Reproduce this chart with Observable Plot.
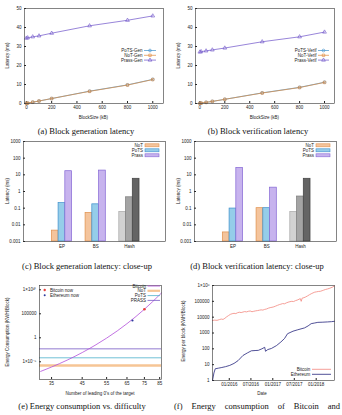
<!DOCTYPE html>
<html><head><meta charset="utf-8">
<script src="https://cdn.jsdelivr.net/npm/d3@7"></script>
<script src="https://cdn.jsdelivr.net/npm/@observablehq/plot@0.6"></script>
<style>
body{margin:0;background:#fff;}
#root{position:relative;width:342px;height:415px;overflow:hidden;background:#fff;}
</style></head><body><div id="root"></div>
<script>
// ---------- DATA ----------
// (a)/(b) latency vs block size
const blockSizes = [0, 10, 50, 100, 200, 500, 800, 1000];
const genPoTS  = [0.1, 0.2, 0.7, 1.3, 2.6, 6.5, 9.8, 12.7];
const genNoT   = [0.1, 0.2, 0.7, 1.3, 2.6, 6.4, 9.7, 12.6];
const genPrass = [34.4, 34.6, 35.1, 35.6, 37.0, 40.9, 43.8, 46.1];
const verPoTS  = [0.1, 0.2, 0.6, 1.1, 2.2, 5.6, 8.5, 11.2];
const verNoT   = [0.1, 0.2, 0.6, 1.1, 2.2, 5.5, 8.4, 11.1];
const verPrass = [27.1, 27.3, 27.7, 28.2, 29.2, 32.5, 35.1, 37.6];
const latencyTicks = [0, 10, 20, 30, 40, 50];
const sizeTicks = [0, 200, 400, 600, 800, 1000];

// (c)/(d) close-up bars
const barGroups = ["EP", "BS", "Hash"];
const barSeries = ["NoT", "PoTS", "Prass"];
const genBarNoT   = [0.0045, 0.052, 0.06];
const genBarPoTS  = [0.2, 0.17, 0.45];
const genBarPrass = [16.5, 18, 5.8];
const verBarNoT   = [0.0035, 0.1, 0.06];
const verBarPoTS  = [0.095, 0.1, 0.5];
const verBarPrass = [26, 1.7, 5.8];
const barTicks = [0.001, 0.01, 0.1, 1, 10, 100, 1000];

// (e) energy vs difficulty
const leadingZeros = [32, 35, 40, 45, 50, 55, 60, 65, 70, 75, 80, 85, 86.3];
const btcEnergyCurve = [1e-7, 8.2e-7, 2.6e-5, 8.4e-4, 0.027, 0.86, 27, 880, 28000, 9e5, 2.9e7, 9.2e8, 2.2e9];
const energyNoT = 1.7e-6;
const energyPoTS = 6.8e-5;
const energyPrass = 5e-3;
const bitcoinNow = {zeros: 75, energy: 9e5};
const ethereumNow = {zeros: 68, energy: 4000};
const zeroTicks = [35, 45, 55, 65, 75, 85];
const energyTicks = [1e-5, 1, 1e5, 1e10];
const energyTickLabels = ["1×10⁻⁵", "1", "100000", "1×10¹⁰"];

// (f) energy per block over time
const btcDates = ["2015-08-13","2015-09-01","2015-09-20","2015-10-10","2015-10-25","2015-11-10","2015-11-25","2015-12-10","2015-12-25","2016-01-10","2016-01-25","2016-02-10","2016-02-25","2016-03-10","2016-03-25","2016-04-10","2016-04-25","2016-05-10","2016-05-25","2016-06-10","2016-06-25","2016-07-10","2016-07-25","2016-08-10","2016-08-25","2016-09-10","2016-09-25","2016-10-10","2016-10-25","2016-11-10","2016-11-25","2016-12-10","2016-12-25","2017-01-10","2017-01-25","2017-02-10","2017-02-25","2017-03-10","2017-03-25","2017-04-10","2017-04-25","2017-05-10","2017-05-25","2017-06-10","2017-06-25","2017-07-10","2017-07-25","2017-08-10","2017-08-20","2017-08-28","2017-09-05","2017-09-20","2017-10-05","2017-10-20","2017-11-05","2017-11-20","2017-12-05","2017-12-20","2018-01-05","2018-01-20","2018-02-05","2018-02-20","2018-03-05","2018-03-20","2018-04-05","2018-04-20","2018-05-05","2018-05-20","2018-06-04"];
const btcEnergy = [6200,6500,6300,7000,7600,7200,8500,10500,12500,15000,16500,17500,16800,19000,20500,19500,21000,22500,21500,23500,24500,22000,23500,25000,26000,27500,29000,28000,31000,33000,37000,40000,42000,45000,50000,56000,62000,66000,72000,70000,80000,88000,95000,100000,97000,110000,120000,135000,150000,100000,160000,170000,190000,220000,260000,300000,340000,380000,400000,420000,430000,470000,510000,560000,600000,650000,720000,800000,950000];
const ethDates = ["2015-08-13","2015-08-25","2015-09-05","2015-10-01","2015-10-25","2015-12-01","2016-01-05","2016-02-10","2016-03-15","2016-04-25","2016-06-01","2016-07-05","2016-08-05","2016-09-01","2016-10-01","2016-10-25","2016-11-01","2016-11-20","2016-12-20","2017-02-01","2017-03-10","2017-04-10","2017-05-05","2017-06-20","2017-07-30","2017-09-25","2017-10-25","2017-11-20","2017-12-20","2018-01-15","2018-02-20","2018-04-05","2018-05-10","2018-06-04"];
const ethEnergy = [1,3,5.5,6,6.5,7.5,9,12,18,38,55,75,78,80,100,125,70,90,105,160,270,450,900,1300,1600,2100,2800,3900,4300,4700,4800,5000,5200,5500];
const dateTicks = ["2016-01-01","2016-07-01","2017-01-01","2017-07-01","2018-01-01"];
const perBlockTicks = [1, 10, 100, 1000, 10000, 100000, 1000000];
const perBlockTickLabels = ["1", "10", "100", "1000", "10000", "100000", "1×10⁶"];

// ---------- STYLE ----------
const C = {
  pots: "#3d8fcc", not: "#e0883a", prass: "#6c50c8",
  potsFill: "#95cde9", notFill: "#f4c49c", prassFill: "#c7b3ee",
  prassStroke: "#8466d4", notStroke: "#e0904c",
  hashFill: ["#d2d2d2", "#a4a4a4", "#646464"], hashStroke: ["#aaaaaa", "#7c7c7c", "#404040"],
  eBtc: "#b24fda", eNot: "#f6c595", ePots: "#4cb0cc", ePrass: "#7658c4",
  red: "#e8413c", navy: "#2b3a9c", fBtc: "#f2877e", fEth: "#24247c"
};
const sans = "'Liberation Sans', Arial, sans-serif";
const serif = "'Liberation Serif', 'Times New Roman', serif";
const baseStyle = {fontFamily: sans, fontSize: "4.5px", color: "#222", background: "transparent", overflow: "visible"};

const root = document.getElementById("root");
function put(node, left, top) {
  node.style.position = "absolute";
  node.style.left = left + "px";
  node.style.top = top + "px";
  root.appendChild(node);
}

// ---------- (a)/(b) ----------
function seriesMarks(xs, ys, color, symbol) {
  const data = xs.map((x, i) => ({x, y: ys[i]}));
  return [
    Plot.line(data, {x: "x", y: "y", stroke: color, strokeWidth: 0.7}),
    Plot.dot(data, {x: "x", y: "y", symbol, r: 1.4, stroke: color, strokeWidth: 0.6, fill: "none"})
  ];
}
function latencyPlot(xDomain, pots, not, prass) {
  return Plot.plot({
    width: 171, height: 122, marginLeft: 24, marginRight: 8, marginTop: 8, marginBottom: 19,
    style: baseStyle,
    x: {domain: xDomain, ticks: sizeTicks, tickFormat: d => String(d), tickSize: -2, tickPadding: 4, label: null},
    y: {domain: [0, 50], ticks: latencyTicks, tickFormat: d => String(d), tickSize: -2, tickPadding: 5, label: null},
    marks: [
      ...seriesMarks(blockSizes, pots, C.pots, "circle"),
      ...seriesMarks(blockSizes, not, C.not, "square"),
      ...seriesMarks(blockSizes, prass, C.prass, "triangle"),
      Plot.frame({stroke: "#333", strokeWidth: 0.6})
    ]
  });
}
put(latencyPlot([-15, 1085], genPoTS, genNoT, genPrass), 0, 0);
put(latencyPlot([-35, 1080], verPoTS, verNoT, verPrass), 171, 0);

// ---------- (c)/(d) ----------
function barPlot(notArr, potsArr, prassArr) {
  const arrs = [notArr, potsArr, prassArr];
  const fills = [C.notFill, C.potsFill, C.prassFill];
  const strokes = [C.notStroke, C.pots, C.prassStroke];
  const rows = barGroups.flatMap((g, gi) => barSeries.map((s, si) => ({g, gi, s, si, v: arrs[si][gi]})));
  const step = 0.2;
  return Plot.plot({
    width: 171, height: 118, marginLeft: 23, marginRight: 6, marginTop: 5, marginBottom: 13,
    style: baseStyle,
    color: {type: "identity"},
    x: {type: "linear", domain: [-1.14, 3.07], ticks: [0, 1, 2], tickFormat: i => barGroups[i], tickSize: 0, tickPadding: 3, label: null},
    y: {type: "log", domain: [0.001, 1000], ticks: barTicks, tickFormat: d => String(d), tickSize: -2, tickPadding: 5, label: null},
    marks: [
      Plot.rectY(rows, {
        x1: d => d.gi + (d.si - 1) * step - step / 2,
        x2: d => d.gi + (d.si - 1) * step + step / 2,
        y1: () => 0.001, y2: "v",
        fill: d => d.g === "Hash" ? C.hashFill[d.si] : fills[d.si],
        stroke: d => d.g === "Hash" ? C.hashStroke[d.si] : strokes[d.si],
        strokeWidth: 0.7
      }),
      Plot.frame({stroke: "#333", strokeWidth: 0.6})
    ]
  });
}
put(barPlot(genBarNoT, genBarPoTS, genBarPrass), 0, 136);
put(barPlot(verBarNoT, verBarPoTS, verBarPrass), 171, 136);

// ---------- (e) ----------
const curve = leadingZeros.map((z, i) => ({z, e: btcEnergyCurve[i]}));
const ePlot = Plot.plot({
  width: 171, height: 110, marginLeft: 39, marginRight: 10, marginTop: 5, marginBottom: 11,
  style: baseStyle,
  x: {type: "log", domain: [31.7, 86.3], ticks: zeroTicks, tickFormat: d => String(d), tickSize: -2, tickPadding: 4, label: null},
  y: {type: "log", domain: [2.05e-9, 7.9e10], ticks: energyTicks, tickFormat: d => energyTickLabels[energyTicks.indexOf(d)], tickSize: -2, tickPadding: 5, label: null},
  marks: [
    Plot.ruleY([energyNoT], {stroke: C.eNot, strokeWidth: 2.4}),
    Plot.ruleY([energyPoTS], {stroke: C.ePots, strokeWidth: 0.8}),
    Plot.ruleY([energyPrass], {stroke: C.ePrass, strokeWidth: 0.8}),
    Plot.line(curve, {x: "z", y: "e", stroke: C.eBtc, strokeWidth: 0.8, curve: "monotone-x"}),
    Plot.dot([bitcoinNow], {x: "zeros", y: "energy", fill: C.red, r: 1.3}),
    Plot.dot([ethereumNow], {x: "zeros", y: "energy", fill: C.navy, r: 1.1}),
    Plot.frame({stroke: "#333", strokeWidth: 0.6})
  ]
});
put(ePlot, 0, 280);

// ---------- (f) ----------
const parse = d3.utcParse("%Y-%m-%d");
const btcRows = btcDates.map((d, i) => ({t: parse(d), v: btcEnergy[i]}));
const ethRows = ethDates.map((d, i) => ({t: parse(d), v: ethEnergy[i]}));
const fPlot = Plot.plot({
  width: 171, height: 110, marginLeft: 41, marginRight: 8, marginTop: 5, marginBottom: 10,
  style: baseStyle,
  x: {type: "utc", domain: [parse("2015-08-13"), parse("2018-06-04")], ticks: dateTicks.map(parse), tickFormat: d3.utcFormat("%m/%Y"), tickSize: -2, tickPadding: 4, label: null},
  y: {type: "log", domain: [1, 1000000], ticks: perBlockTicks, tickFormat: d => perBlockTickLabels[perBlockTicks.indexOf(d)], tickSize: -2, tickPadding: 5, label: null},
  marks: [
    Plot.line(btcRows, {x: "t", y: "v", stroke: C.fBtc, strokeWidth: 0.8}),
    Plot.line(ethRows, {x: "t", y: "v", stroke: C.fEth, strokeWidth: 0.8}),
    Plot.frame({stroke: "#333", strokeWidth: 0.6})
  ]
});
put(fPlot, 171, 280);

// ---------- overlay: titles, legends, captions ----------
const ov = d3.select(root).append("svg").attr("width", 342).attr("height", 415)
  .style("position", "absolute").style("left", "0px").style("top", "0px").style("overflow", "visible");
function txt(s, x, y, o = {}) {
  const t = ov.append("text").attr("x", x).attr("y", y).text(s)
    .attr("text-anchor", o.anchor || "middle").attr("dominant-baseline", "central")
    .attr("font-family", o.family || sans).attr("font-size", o.size || 4.5)
    .attr("fill", o.color || "#222");
  if (o.rotate) t.attr("transform", `rotate(${o.rotate},${x},${y})`);
  return t;
}
const symMap = {circle: d3.symbolCircle, square: d3.symbolSquare, triangle: d3.symbolTriangle};
function legLine(x1, x2, y, color, width, symbol) {
  ov.append("line").attr("x1", x1).attr("x2", x2).attr("y1", y).attr("y2", y).attr("stroke", color).attr("stroke-width", width);
  if (symbol) ov.append("path").attr("d", d3.symbol(symMap[symbol], 6)()).attr("transform", `translate(${(x1 + x2) / 2},${y})`)
    .attr("fill", "none").attr("stroke", color).attr("stroke-width", 0.6);
}
function legRect(x1, x2, y, fill, stroke) {
  ov.append("rect").attr("x", x1).attr("y", y - 1.5).attr("width", x2 - x1).attr("height", 3).attr("fill", fill).attr("stroke", stroke).attr("stroke-width", 0.6);
}

// axis titles
txt("Latency (ms)", 7, 55.5, {rotate: -90});
txt("Latency (ms)", 178, 55.5, {rotate: -90});
txt("BlockSize (kB)", 93.5, 117);
txt("BlockSize (kB)", 264.5, 117);
txt("Latency (ms)", 7, 191, {rotate: -90});
txt("Latency (ms)", 178, 191, {rotate: -90});
txt("Energy Consumption (KWH/Block)", 7, 332, {rotate: -90});
txt("Number of leading 0's of the target", 100, 393);
txt("Energy per block (KWH/Block)", 183, 331, {rotate: -90});
txt("Date", 262, 393);

// legends (a)/(b)
[["PoTS-Gen", "PoTS-Verif", C.pots, "circle"], ["NoT-Gen", "NoT-Verif", C.not, "square"], ["Prass-Gen", "Prass-Verif", C.prass, "triangle"]]
  .forEach(([ga, vb, col, sym], i) => {
    const y = 50.5 + i * 4.8;
    txt(ga, 142.5, y, {anchor: "end"}); legLine(144, 156, y, col, 0.7, sym);
    txt(vb, 316.5, y, {anchor: "end"}); legLine(318, 329, y, col, 0.7, sym);
  });
// legends (c)/(d)
[["NoT", C.notFill, C.notStroke], ["PoTS", C.potsFill, C.pots], ["Prass", C.prassFill, C.prassStroke]]
  .forEach(([name, f, s], i) => {
    const y = 145.3 + i * 5;
    txt(name, 143, y, {anchor: "end"}); legRect(145, 159, y, f, s);
    txt(name, 314, y, {anchor: "end"}); legRect(316, 330, y, f, s);
  });
// legend (e)
[["Bitcoin", C.eBtc, 0.8], ["NoT", C.eNot, 2.2], ["PoTS", C.ePots, 0.8], ["PRASS", C.ePrass, 0.8]]
  .forEach(([name, col, w], i) => {
    const y = 286 + i * 4.8;
    txt(name, 146, y, {anchor: "end"}); legLine(147.5, 160, y, col, w);
  });
ov.append("circle").attr("cx", 44.7).attr("cy", 290).attr("r", 1.2).attr("fill", C.red);
txt("Bitcoin now", 50, 290, {anchor: "start"});
ov.append("circle").attr("cx", 44.7).attr("cy", 295.3).attr("r", 1.0).attr("fill", C.navy);
txt("Ethereum now", 50, 295.3, {anchor: "start"});
// legend (f)
txt("Bitcoin", 310.3, 369.3, {anchor: "end"}); legLine(312, 331, 369.3, C.fBtc, 0.8);
txt("Ethereum", 310.3, 374.3, {anchor: "end"}); legLine(312, 331, 374.3, C.fEth, 0.8);

// captions
const capO = {family: serif, size: 8.5, color: "#111"};
txt("(a) Block generation latency", 86, 131, capO);
txt("(b) Block verification latency", 258, 131, capO);
txt("(c) Block generation latency: close-up", 87, 266, capO);
txt("(d) Block verification latency: close-up", 257, 266, capO);
txt("(e) Energy consumption vs. difficulty", 82, 406, capO);
const fc = document.createElement("div");
fc.textContent = "(f) Energy consumption of Bitcoin and";
Object.assign(fc.style, {width: "166px", fontFamily: serif, fontSize: "8.5px", color: "#111", textAlign: "justify", textAlignLast: "justify", lineHeight: "10px"});
put(fc, 174, 401);
</script></body></html>
